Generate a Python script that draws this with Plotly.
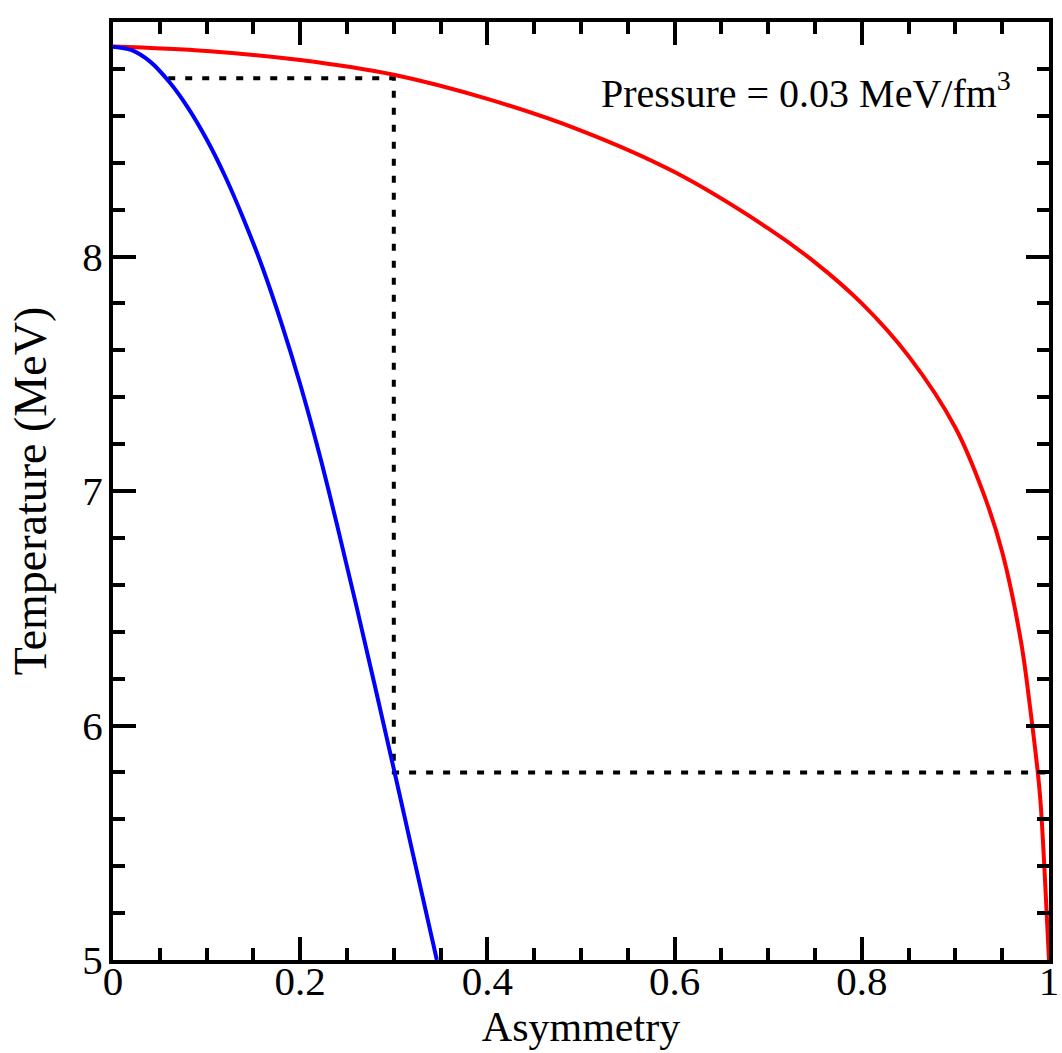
import plotly.graph_objects as go

# Red curve (upper boundary)
red_x = [0, 0.1, 0.2, 0.3, 0.4, 0.5, 0.6, 0.7, 0.75, 0.8, 0.85, 0.9, 0.93, 0.95,
         0.97, 0.98, 0.99, 0.995, 1.0]
red_y = [8.895, 8.876, 8.838, 8.775, 8.672, 8.537, 8.36, 8.12, 7.975, 7.80, 7.575,
         7.27, 6.99, 6.74, 6.36, 6.07, 5.72, 5.40, 5.0]

# Blue curve
blue_x = [0, 0.02, 0.04, 0.06, 0.08, 0.1, 0.12, 0.14, 0.16, 0.18, 0.2, 0.22, 0.24,
          0.26, 0.28, 0.30, 0.32, 0.346]
blue_y = [8.895, 8.880, 8.830, 8.745, 8.635, 8.50, 8.34, 8.155, 7.95, 7.715, 7.455,
          7.165, 6.845, 6.51, 6.165, 5.815, 5.46, 5.0]

# Dotted guide path
guide_x = [0.059, 0.3, 0.3, 1.0]
guide_y = [8.76, 8.76, 5.8, 5.8]

x_ticks = [0, 0.2, 0.4, 0.6, 0.8, 1]
x_labels = ["0", "0.2", "0.4", "0.6", "0.8", "1"]
y_ticks = [5, 6, 7, 8, 9]
y_labels = ["5", "6", "7", "8", "9"]

FONT = "Liberation Serif, Times New Roman, serif"

fig = go.Figure()
fig.add_trace(go.Scatter(x=guide_x, y=guide_y, mode="lines",
                         line=dict(color="black", width=4, dash="7px,10px"),
                         hoverinfo="skip", showlegend=False))
fig.add_trace(go.Scatter(x=red_x, y=red_y, mode="lines", line_shape="spline",
                         line=dict(color="#ff0000", width=4, smoothing=1.0), showlegend=False))
fig.add_trace(go.Scatter(x=blue_x, y=blue_y, mode="lines", line_shape="spline",
                         line=dict(color="#0000ff", width=4, smoothing=1.0), showlegend=False))

fig.add_annotation(x=0.961, y=8.71, xref="x", yref="y", xanchor="right", yanchor="middle",
                   text="Pressure = 0.03 MeV/fm<sup>3</sup>", showarrow=False,
                   font=dict(family=FONT, size=40, color="black"))

axis_common = dict(showgrid=False, zeroline=False, showline=True, linecolor="black",
                   linewidth=4, mirror="allticks", ticks="inside", tickwidth=3.5,
                   ticklen=23, tickcolor="black")

fig.update_xaxes(range=[0, 1], tickvals=x_ticks, ticktext=x_labels,
                 tickfont=dict(family=FONT, size=41, color="black"), ticklabelstandoff=-18,
                 title=dict(text="Asymmetry", font=dict(family=FONT, size=42, color="black"), standoff=0),
                 minor=dict(dtick=0.05, ticks="inside", ticklen=12, tickwidth=3.5, tickcolor="black"),
                 **axis_common)
fig.update_yaxes(range=[5, 9], tickvals=y_ticks, ticktext=y_labels,
                 tickfont=dict(family=FONT, size=41, color="black"), ticklabelstandoff=-2,
                 title=dict(text="Temperature (MeV)", font=dict(family=FONT, size=46, color="black"), standoff=22),
                 minor=dict(dtick=0.2, ticks="inside", ticklen=12, tickwidth=3.5, tickcolor="black"),
                 **axis_common)

fig.update_layout(width=1062, height=1053, margin=dict(l=113, r=13, t=22, b=93, autoexpand=False),
                  paper_bgcolor="white", plot_bgcolor="white", showlegend=False)

fig.write_html("out.html", config={"displayModeBar": False},
               post_script="document.body.style.margin='0';document.body.style.overflow='hidden';")
